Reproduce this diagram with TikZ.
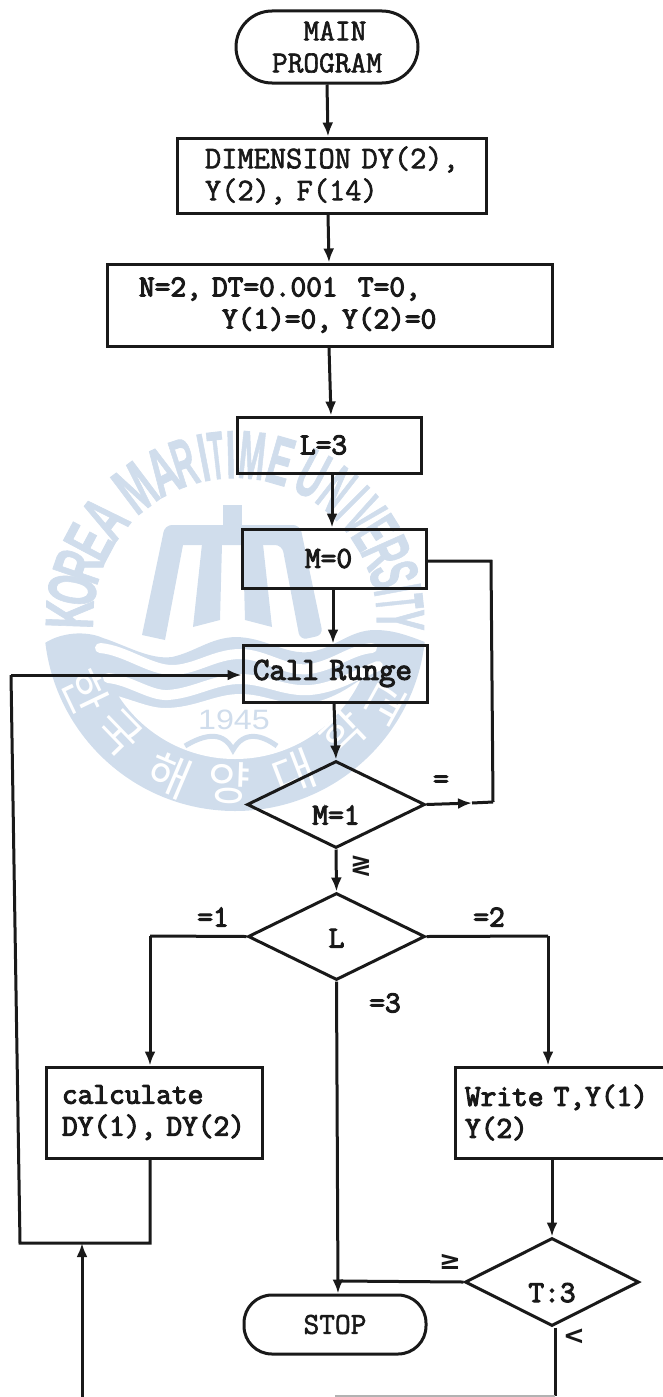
\documentclass[tikz,border=0pt]{standalone}
\usepackage{fontspec}
\newfontfamily\wmb{Liberation Sans Bold}[FakeBold=1.5]
\newfontfamily\wmsans{Liberation Sans}
\newfontfamily\wmkr{Noto Sans CJK KR}
\newfontfamily\symf{DejaVu Sans Bold}
\newfontfamily\tw{Latin Modern Mono}[FakeBold=3.5]
\newfontfamily\twl{Latin Modern Mono}[FakeBold=2]
\usetikzlibrary{shapes.geometric,arrows.meta,calc}
\definecolor{wmblue}{HTML}{D0DDEC}
\tikzset{
  ink/.style={line width=3pt,draw=black!90},
  flow/.style={ink,-{Latex[length=14pt,width=11pt]}},
  plain/.style={ink},
  txt/.style={font=\fontsize{30.5}{32}\selectfont\tw,text=black!90},
  txtl/.style={font=\fontsize{30.5}{32}\selectfont\twl,text=black!90},
  boxn/.style={ink,txt,rectangle,align=left,inner ysep=0pt},
  term/.style={ink,txtl,rectangle,rounded corners=28pt,align=center,inner sep=0pt},
  dec/.style={ink,txt,diamond,inner sep=0pt},
  lab/.style={txt,inner sep=0pt},
  symb/.style={lab,font=\fontsize{26}{26}\selectfont\symf},
  wmfill/.style={fill=wmblue,draw=none},
  stripe/.style={white,line width=10pt,line cap=round},
}
\begin{document}
\begin{tikzpicture}[x=1pt,y=-1pt]
\useasboundingbox (0,0) rectangle (663,1397);
% ---- watermark seal: crescent and waves ----
\begin{scope}
  \clip (30,648) -- (45,643) .. controls (60,633) and (85,630) .. (103,638)
        .. controls (125,645) and (150,660) .. (172,657)
        .. controls (195,652) and (210,638) .. (235,637)
        .. controls (265,637) and (285,655) .. (310,652)
        .. controls (335,648) and (350,630) .. (375,630)
        .. controls (395,630) and (410,636) .. (440,648)
        -- (440,830) -- (30,830) -- cycle;
  \fill[wmfill] (235,620) circle (191);
\end{scope}
\begin{scope}
  \clip (235,620) circle (139);
  \fill[white] (90,690) .. controls (125,695) and (145,708) .. (165,708)
        .. controls (195,708) and (215,694) .. (240,694)
        .. controls (265,694) and (285,706) .. (305,704)
        .. controls (335,700) and (355,685) .. (385,660)
        -- (420,820) -- (60,820) -- cycle;
\end{scope}
\draw[stripe] (100,648) .. controls (125,650) and (150,670) .. (172,670)
  .. controls (195,670) and (215,654) .. (240,654)
  .. controls (265,654) and (285,672) .. (310,669)
  .. controls (335,665) and (350,650) .. (372,648);
\draw[stripe] (108,678) .. controls (130,680) and (150,696) .. (168,695)
  .. controls (195,693) and (215,679) .. (240,679)
  .. controls (265,679) and (285,692) .. (310,690)
  .. controls (335,688) and (355,675) .. (378,666);
% ---- tower ----
\fill[wmfill] (223,505) rectangle (242,530);
\fill[wmfill,rounded corners=7pt] (142,635) -- (165,525) -- (300,525) -- (323,635) -- (300,640)
   -- (282,545) [sharp corners] -- (183,545) -- (165,640) -- cycle;
\fill[wmfill] (202,544) -- (222,544) -- (220,620) -- (193,627) -- cycle;
\fill[wmfill] (243,544) -- (263,544) -- (272,627) -- (245,620) -- cycle;
% ---- seal lettering ----
\foreach \c/\a/\s [count=\i from 0] in {K/178/.58,O/169.5/.56,R/161/.56,E/152/.58,A/142/.58,
   M/127/.58,A/116/.56,R/108/.46,I/101/.5,T/96.5/.38,I/91.5/.5,M/84/.46,E/74/.52,
   U/62/.52,N/52/.46,I/45/.42,V/39/.44,E/32/.46,R/24/.5,S/16/.5,I/10.5/.4,T/6/.36,Y/0/.46}{
  \pgfmathsetmacro\r{\a-90}
  \node[name=wm\i,rotate=\r,xscale=\s,anchor=base,inner sep=0pt,text=wmblue,font=\fontsize{68}{68}\selectfont\wmb]
    at ({235+142*cos(\a)},{620-142*sin(\a)}) {\c};
}
\foreach \c/\a/\d [count=\i] in {한/205.6/166,국/224/162,해/247/168,양/268/163,대/291/164,학/313.7/156,교/331/173}{
  \pgfmathsetmacro\r{\a-270}
  \node[name=kr\i,rotate=\r,inner sep=0pt,text=white,font=\fontsize{46}{46}\selectfont\wmkr]
    at ({235+\d*cos(\a)},{620-\d*sin(\a)}) {\c};
}
\node[name=wmyear,inner sep=0pt,text=wmblue,xscale=1.15,font=\fontsize{28}{28}\selectfont\wmsans] at (234,720) {1945};
\draw[wmblue,line width=5pt] (185,746) .. controls (200,737) and (222,728) .. (233,750)
   .. controls (244,730) and (262,735) .. (277,746);
% ---- nodes ----
\node[term,minimum width=182pt,minimum height=72pt,rounded corners=36pt] (main) at (327,47)
   {\hspace*{16pt}MAIN\\PROGRAM};
\node[boxn,txtl,font=\fontsize{31.5}{32}\selectfont\twl,text width=253pt,inner xsep=28pt,minimum height=75pt] (dim) at (331.5,175.5)
   {DIMENSION~DY(2),\\Y(2),~F(14)};
\node[boxn,text width=381pt,inner xsep=32pt,minimum height=82pt] (init) at (329.5,305)
   {N=2,~DT=0.001~~T=0,\\\hspace*{83pt}Y(1)=0,~Y(2)=0};
\node[boxn,text width=58pt,inner xsep=63pt,minimum height=56pt] (l3) at (329,445) {L=3};
\node[boxn,text width=58pt,inner xsep=63pt,minimum height=59pt] (m0) at (334,558.5) {M=0};
\node[boxn,font=\fontsize{32}{32}\selectfont\tw,text width=164pt,inner xsep=10pt,minimum height=57pt] (call) at (335,673.5) {Call~Runge};
\node[dec,aspect=2.05,minimum width=178pt,minimum height=87pt] (m1) at (336,804.5)
   {\smash{\raisebox{-20pt}{M=1}}};
\node[dec,aspect=2.03,minimum width=177pt,minimum height=87pt] (ld) at (336.5,936.5)
   {\smash{\raisebox{-11pt}{L}}};
\node[boxn,text width=184pt,inner xsep=16pt,minimum height=91pt] (calc) at (154,1112.5)
   {calculate\\DY(1),~DY(2)};
\node[boxn,text width=190pt,inner xsep=10pt,minimum height=91pt] (wr) at (560,1112.5)
   {Write~T,Y(1)\\Y(2)};
\node[dec,aspect=1.98,minimum width=174pt,minimum height=88pt] (t3) at (552,1282)
   {\smash{\raisebox{-20pt}{T:3}}};
\node[term,minimum width=182pt,minimum height=59pt] (stop) at (335,1324.5) {STOP};
% ---- labels ----
\node[lab,name=leq] at (441,782) {=};
\node[symb,name=lge] at (361,866) {≷};
\node[lab,name=l1] at (213,917) {=1};
\node[lab,name=l2] at (489,917) {=2};
\node[lab,name=l3t] at (385,1003) {=3};
\node[symb,name=lg] at (450,1262) {≥};
\node[symb,name=ll] at (574,1337) {<};
% ---- free points ----
\coordinate (j1) at (491,561);
\coordinate (j2) at (493,802);
\coordinate (midj) at (472,803);
\coordinate (lcorn) at (150,936);
\coordinate (rcorn) at (548,936);
\coordinate (bl) at (150,1243);
\coordinate (bc) at (82,1243);
\coordinate (bcend) at (82,1397);
\coordinate (ltop) at (11,675);
\coordinate (lbot) at (20,1243);
\coordinate (tj) at (338,1281);
\coordinate (tend) at (555,1396);
\coordinate (bend) at (335,1396);
% ---- connectors ----
\draw[flow] (main.south) -- ([xshift=-3.5pt]dim.north);
\draw[flow] ([xshift=-3.5pt]dim.south) -- ([xshift=-.5pt]init.north);
\draw[flow] ([xshift=-.5pt]init.south) -- ([xshift=2pt]l3.north);
\draw[flow] ([xshift=3pt]l3.south) -- ([xshift=-2pt]m0.north);
\draw[flow] ([xshift=-1pt]m0.south) -- ([xshift=-2pt]call.north);
\draw[flow] ([xshift=-1pt]call.south) -- (m1.north);
\draw[flow] (m1.south) -- (ld.north);
\draw[plain] (m0.east |- j1) -- (j1) -- (j2);
\draw[flow] (m1.east) -- (midj);
\draw[plain] (midj) -- (j2);
\draw[plain] (ld.west) -- (lcorn);
\draw[flow] (lcorn) -- (lcorn |- calc.north);
\draw[plain] (ld.east) -- (rcorn);
\draw[flow] (rcorn) -- (rcorn |- wr.north);
\draw[flow] (ld.south) -- ([xshift=3pt]stop.north);
\draw[plain] (t3.west) -- (tj);
\draw[plain] (calc.south -| bl) -- (bl) -- (lbot) -- (ltop);
\draw[flow] (ltop) -- (call.west |- ltop);
\draw[flow] (bcend) -- (bc);
\draw[flow] (wr.south -| t3.north) -- (t3.north);
\draw[plain] ([xshift=3pt]t3.south) -- (tend);
\draw[black!30,line width=2pt] (tend) -- (bend);
\end{tikzpicture}
\end{document}
